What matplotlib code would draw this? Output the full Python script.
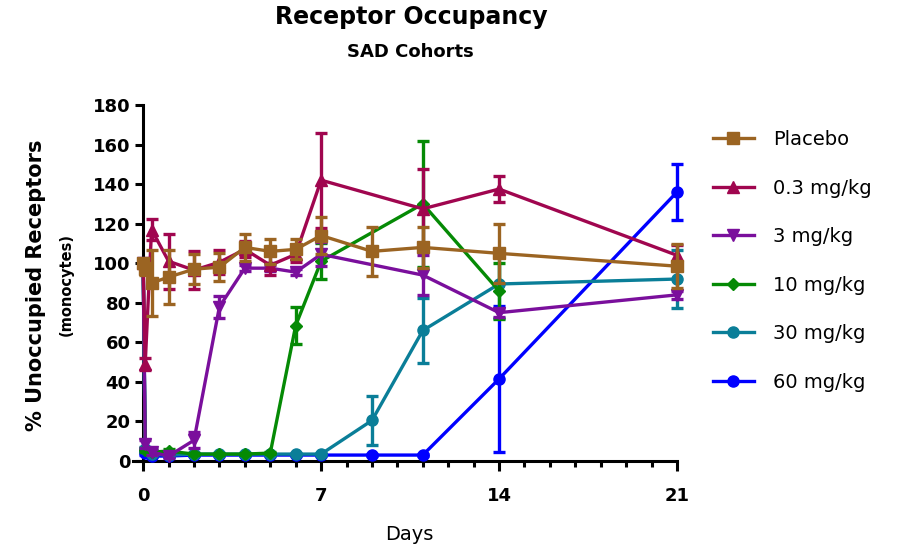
import matplotlib
matplotlib.use("Agg")
import matplotlib.pyplot as plt
from matplotlib.lines import Line2D
from matplotlib.ticker import MultipleLocator

plt.rcParams['font.family'] = ['DejaVu Sans']

# 数据 (天数, 均值, 误差)
labels = ["Placebo", "0.3 mg/kg", "3 mg/kg", "10 mg/kg", "30 mg/kg", "60 mg/kg"]
colors = ['#9B6422', '#A0064F', '#7A0F9C', '#058A05', '#0A7E98', '#0000FF']
markers = ['s', '^', 'v', 'D', 'o', 'o']
msizes = [8, 8, 8, 6, 8, 8]

t_pl = [0, 0.08, 0.33, 1, 2, 3, 4, 5, 6, 7, 9, 11, 14, 21]
v_pl = [100, 97, 90, 93, 97, 98, 108, 106, 107, 114, 106, 108, 105, 98.5]
e_pl = [2, 3, 16.5, 13.5, 7.5, 7, 7, 6.5, 5, 9.5, 12.5, 10.5, 15, 11]

t_03 = [0, 0.08, 0.33, 1, 2, 3, 4, 5, 6, 7, 11, 14, 21]
v_03 = [100, 49, 117, 101, 96.5, 100.5, 107, 99, 104.5, 142, 127.5, 137.5, 104]
e_03 = [0, 3, 5.5, 14, 9.5, 6, 4, 5, 4, 24, 20, 6.5, 5]

t_3 = [0, 0.08, 0.33, 1, 2, 3, 4, 5, 6, 7, 11, 14, 21]
v_3 = [100, 8.5, 4.5, 2.5, 10.5, 78, 97.5, 97.5, 95.5, 104.5, 94, 75, 84]
e_3 = [0, 2, 1.5, 1, 4, 5.5, 1.5, 1.5, 1.5, 6, 10, 2, 2]

t_10 = [0, 0.08, 0.33, 1, 2, 3, 4, 5, 6, 7, 11, 14]
v_10 = [100, 5.5, 4.5, 5, 3.5, 3.5, 3.5, 4, 68.5, 101, 130, 86]
e_10 = [0, 1, 1, 1, 0.5, 0.5, 0.5, 0.5, 9.3, 9, 32, 14]

t_30 = [0, 0.08, 0.33, 1, 2, 3, 4, 5, 6, 7, 9, 11, 14, 21]
v_30 = [100, 6, 3.5, 3, 3.5, 3.5, 3.5, 3.5, 3.5, 3.5, 20.5, 66, 89.5, 92]
e_30 = [0, 1, 0.5, 0.5, 0.5, 0.5, 0.5, 0.5, 0.5, 0.5, 12.5, 16.5, 17, 14.5]

t_60 = [0, 0.08, 0.33, 1, 2, 3, 4, 5, 6, 7, 9, 11, 14, 21]
v_60 = [100, 4, 2.5, 2.5, 3, 3, 3, 3, 3, 3, 3, 3, 41.5, 136]
e_60 = [0, 1, 0.5, 0.5, 0.5, 0.5, 0.5, 0.5, 0.5, 0.5, 0.5, 0.5, 37, 14]

series = [(t_pl, v_pl, e_pl), (t_03, v_03, e_03), (t_3, v_3, e_3),
          (t_10, v_10, e_10), (t_30, v_30, e_30), (t_60, v_60, e_60)]
zorders = [8, 7, 6, 5, 4, 3]

fig = plt.figure(figsize=(9.12, 5.52), dpi=100)
ax = fig.add_axes([133 / 912, 1 - 461 / 552, (677 - 133) / 912, (461 - 105) / 552])

for (t, v, e), c, m, ms, z in zip(series, colors, markers, msizes, zorders):
    cont = ax.errorbar(t, v, yerr=e, color=c, marker=m, ms=ms, lw=2.4,
                       elinewidth=2.4, capsize=4, capthick=2.4, zorder=z)
    for art in cont.get_children():
        art.set_clip_on(False)

ax.set_xlim(-0.4, 21)
ax.set_ylim(0, 180)
ax.spines['top'].set_visible(False)
ax.spines['right'].set_visible(False)
ax.spines['left'].set_position(('data', 0))
for s in ['left', 'bottom']:
    ax.spines[s].set_linewidth(2.2)

ax.set_xticks([0, 7, 14, 21])
ax.xaxis.set_minor_locator(MultipleLocator(1))
ax.set_yticks(range(0, 181, 20))
ax.tick_params(axis='both', which='major', width=2.2, direction='out', labelsize=13)
ax.tick_params(axis='y', which='major', length=6, pad=3)
ax.tick_params(axis='x', which='major', length=7, pad=12)
ax.tick_params(axis='x', which='minor', length=4.5, width=2.2)
for lab in ax.get_xticklabels() + ax.get_yticklabels():
    lab.set_fontweight('bold')

# 标题和轴标签
fig.text(411 / 912, 1 - 17 / 552, "Receptor Occupancy", ha='center', va='center',
         fontsize=17, fontweight='bold')
fig.text(410 / 912, 1 - 52 / 552, "SAD Cohorts", ha='center', va='center',
         fontsize=13, fontweight='bold')
fig.text(36 / 912, 1 - 285 / 552, "% Unoccupied Receptors", ha='center', va='center',
         rotation=90, fontsize=15, fontweight='bold')
fig.text(66 / 912, 1 - 285 / 552, "(monocytes)", ha='center', va='center',
         rotation=90, fontsize=10.5, fontweight='bold')
fig.text(409 / 912, 1 - 534 / 552, "Days", ha='center', va='center', fontsize=14)

# 图例
handles = [Line2D([], [], color=c, lw=2.4, marker=m, ms=ms)
           for c, m, ms in zip(colors, markers, msizes)]
fig.legend(handles, labels, loc='upper left', bbox_to_anchor=(713 / 912, 1 - 130 / 552),
           bbox_transform=fig.transFigure, frameon=False, fontsize=14,
           handlelength=2.1, handletextpad=1.0, labelspacing=1.52,
           borderpad=0, borderaxespad=0)

fig.savefig("out.png", dpi=100)
